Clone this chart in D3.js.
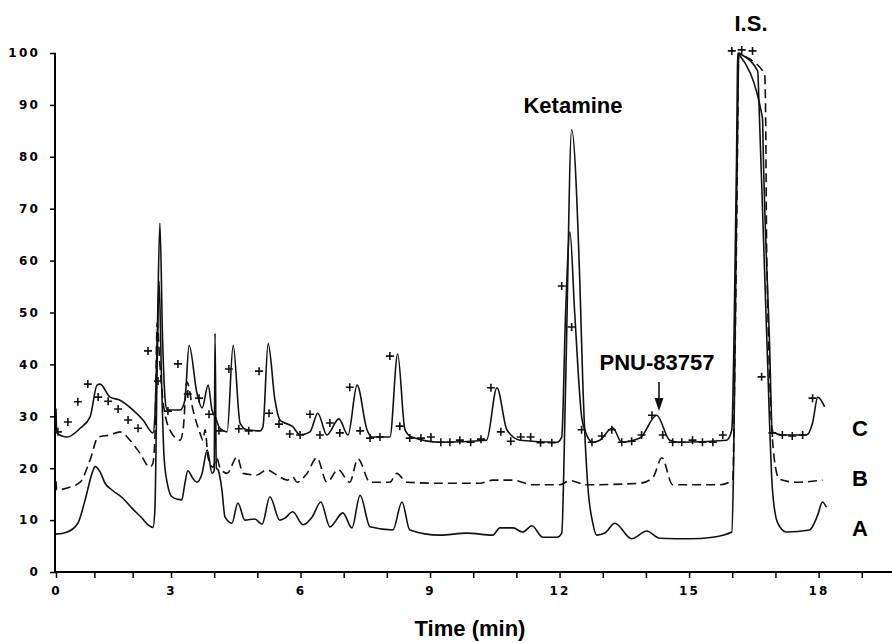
<!DOCTYPE html>
<html>
<head>
<meta charset="utf-8">
<script src="https://cdn.jsdelivr.net/npm/d3@7"></script>
<style>
  body { margin: 0; background: #fff; }
  svg { display: block; }
  .tick text { font-family: "DejaVu Sans", sans-serif; font-size: 12px; font-weight: bold; letter-spacing: 2.2px; }
  .label { font-family: "Liberation Sans", Arial, sans-serif; font-weight: bold; font-size: 22px; }
</style>
</head>
<body>
<svg id="chart" width="892" height="643"></svg>
<script>
// time (min) / relative abundance pairs
var traceA = [
  [0, 7.3], [0.26, 7.6], [0.57, 9.4], [0.76, 13.9], [0.94, 19.0], [1.02, 20.3], [1.15, 19.3],
  [1.28, 17.1], [1.46, 15.8], [1.73, 14.3], [1.98, 12.3], [2.24, 10.4], [2.40, 9.1], [2.53, 8.6],
  [2.58, 12], [2.64, 40], [2.69, 56], [2.75, 38], [2.82, 22], [2.92, 16.5], [3.02, 14.5],
  [3.16, 14], [3.25, 13.9], [3.32, 17], [3.39, 19.5], [3.51, 18], [3.60, 17.3], [3.72, 19],
  [3.84, 23.5], [3.95, 19], [4.00, 19.5], [4.02, 46], [4.05, 20], [4.09, 19.7], [4.18, 15.8],
  [4.25, 10.6], [4.41, 9.4], [4.55, 13.3], [4.71, 10], [4.94, 10.2], [5.11, 9.2], [5.29, 14.5],
  [5.52, 10], [5.64, 10.4], [5.82, 11.6], [6.06, 9.1], [6.27, 10.6], [6.47, 13.5], [6.68, 8.7],
  [6.98, 11.4], [7.19, 8.5], [7.38, 14.8], [7.61, 8.7], [8.14, 8.1], [8.35, 13.5], [8.53, 8.1],
  [9.23, 7.1], [9.85, 7.5], [10.45, 7.1], [10.62, 8.5], [10.92, 8.5], [11.15, 7.7], [11.36, 8.9],
  [11.61, 6.7], [11.94, 6.7], [12.05, 7.5], [12.14, 36], [12.28, 85.2], [12.47, 55.7], [12.54, 36],
  [12.65, 17], [12.77, 9.4], [12.86, 7.1], [13.05, 7.5], [13.28, 9.4], [13.67, 6.4], [14.02, 7.9],
  [14.32, 6.5], [15.01, 6.4], [15.55, 6.7], [15.99, 7.7], [16.03, 20], [16.10, 70], [16.14, 96],
  [16.15, 100], [16.17, 99.9], [16.59, 96.5], [16.62, 90], [16.80, 45], [16.93, 16], [17.05, 9.5],
  [17.25, 7.7], [17.79, 8.1], [17.98, 11], [18.09, 13.5], [18.18, 12.5]
];

var traceB = [
  [0, 17.5], [0.02, 15.8], [0.29, 16.2], [0.63, 17.3], [0.89, 21.6], [1.10, 26], [1.41, 26.4],
  [1.67, 27], [1.93, 25.4], [2.19, 22.9], [2.45, 20.2], [2.53, 21], [2.58, 26], [2.64, 48],
  [2.71, 40], [2.79, 33], [2.97, 27.4], [3.21, 25.4], [3.28, 27.4], [3.37, 36.6], [3.51, 31.2],
  [3.67, 26.8], [3.74, 25.4], [3.79, 27.4], [3.86, 22], [3.97, 20.2], [4.06, 22], [4.13, 20.2],
  [4.30, 19], [4.53, 22.2], [4.67, 19], [4.99, 18.7], [5.22, 19.7], [5.45, 18.7], [5.69, 17.7],
  [5.82, 18.3], [5.92, 17.3], [6.15, 19], [6.38, 22], [6.61, 17.3], [6.87, 19.7], [7.14, 17.3],
  [7.33, 21.8], [7.61, 17.3], [8.07, 17.3], [8.23, 19], [8.46, 17.3], [9.23, 17.1], [10.15, 17.1],
  [10.45, 17.7], [10.92, 17.7], [11.38, 16.8], [12.00, 16.8], [12.24, 17.6], [12.63, 16.8],
  [13.86, 17.1], [14.16, 18.2], [14.37, 22], [14.62, 16.8], [15.08, 16.8], [15.71, 16.8],
  [16.01, 17.7], [16.06, 40], [16.12, 80], [16.14, 97], [16.15, 100], [16.17, 99.9],
  [16.75, 96], [16.77, 90], [16.80, 60], [16.97, 22], [17.09, 17.9], [17.48, 17.3], [18.09, 17.7]
];

var traceC = [
  [0, 31.5], [0.02, 26.8], [0.29, 26], [0.63, 27.7], [0.89, 29.9], [1.07, 36], [1.15, 36.2],
  [1.41, 33.7], [1.67, 33.1], [2.01, 31.2], [2.27, 29.3], [2.53, 26.8], [2.58, 30], [2.64, 45],
  [2.71, 67.2], [2.78, 45], [2.85, 33], [2.90, 31.2], [3.21, 31.2], [3.32, 33], [3.42, 43.7],
  [3.60, 34.5], [3.72, 31.6], [3.86, 36], [3.95, 31.2], [4.02, 30], [4.13, 27.7], [4.30, 27],
  [4.44, 43.7], [4.60, 28.7], [4.76, 27.4], [5.06, 27.2], [5.13, 28], [5.25, 44], [5.41, 33],
  [5.52, 29.3], [5.59, 28.9], [5.82, 28], [5.99, 26.4], [6.22, 27], [6.40, 30.6], [6.61, 26.4],
  [6.89, 29.5], [7.10, 26.4], [7.31, 36], [7.54, 27.4], [7.65, 26], [8.07, 26], [8.25, 42],
  [8.42, 27.4], [8.58, 26], [9.23, 25], [10.31, 25.4], [10.55, 35.5], [10.78, 27.4], [11.08, 25.4],
  [11.94, 25], [12.05, 26], [12.14, 50], [12.24, 65.5], [12.35, 50], [12.51, 30], [12.60, 27],
  [12.77, 25], [12.93, 25.4], [13.23, 27.8], [13.44, 25], [13.86, 25.8], [14.25, 30.2],
  [14.55, 25.4], [14.78, 25], [15.87, 25.4], [15.99, 27.4], [16.04, 45], [16.10, 80], [16.12, 97],
  [16.13, 100], [16.15, 99.8], [16.70, 87.5], [16.72, 80], [16.86, 45], [16.93, 27], [17.16, 26.4],
  [17.72, 26.4], [17.86, 28.7], [17.98, 33.7], [18.14, 31.8]
];

// library spectrum points, drawn as "+"
var libraryPoints = [
  [0.05, 27.0], [0.31, 28.9], [0.57, 32.8], [0.83, 36.2], [1.10, 33.7], [1.36, 32.9], [1.62, 31.4],
  [1.88, 29.3], [2.14, 27.7], [2.40, 42.6], [2.66, 36.8], [2.92, 31.0], [3.16, 40.1], [3.39, 34.3],
  [3.65, 33.5], [3.88, 30.4], [4.11, 27.2], [4.34, 39.1], [4.57, 27.6], [4.80, 27.2], [5.04, 38.7],
  [5.27, 30.6], [5.50, 28.5], [5.75, 26.6], [5.99, 26.4], [6.22, 30.4], [6.45, 26.4], [6.68, 28.7],
  [6.91, 26.8], [7.14, 35.6], [7.38, 27.2], [7.61, 25.8], [7.84, 26.0], [8.07, 41.6], [8.30, 28.1],
  [8.53, 25.8], [8.79, 25.8], [9.02, 26.0], [9.25, 25.0], [9.46, 25.0], [9.69, 25.4], [9.94, 25.0],
  [10.18, 25.6], [10.41, 35.5], [10.64, 27.0], [10.87, 25.2], [11.10, 26.0], [11.33, 26.0],
  [11.56, 24.9], [11.82, 24.9], [12.05, 55.1], [12.28, 47.2], [12.51, 27.4], [12.75, 25.0],
  [12.98, 26.2], [13.21, 27.4], [13.44, 25.0], [13.67, 25.2], [13.90, 26.4], [14.14, 30.2],
  [14.39, 26.4], [14.62, 25.0], [14.83, 25.0], [15.08, 25.4], [15.31, 25.0], [15.55, 25.0],
  [15.78, 26.4], [15.99, 100.4], [16.22, 100.6], [16.47, 100.4], [16.68, 37.6], [16.93, 26.8],
  [17.16, 26.4], [17.39, 26.2], [17.63, 26.4], [17.86, 33.5]
];

var timeTicks = d3.range(0, 20);
var timeLabels = [0, 3, 6, 9, 12, 15, 18];
var yTicks = d3.range(0, 101, 10);

var svg = d3.select('#chart');

// the 0-3 min stretch is drawn narrower on the original axis
var x = d3.scaleLinear().domain([0, 3, 19.7]).range([56, 171, 892]);
var y = d3.scaleLinear().domain([0, 100]).range([572, 53]);

var xAxis = d3.axisBottom(x)
  .tickValues(timeTicks)
  .tickSize(6)
  .tickPadding(8)
  .tickFormat(function (d) { return timeLabels.indexOf(d) >= 0 ? d : ''; });

var yAxis = d3.axisLeft(y)
  .tickValues(yTicks)
  .tickSize(6)
  .tickPadding(9)
  .tickFormat(d3.format('d'));

svg.append('g')
  .attr('transform', 'translate(0,572)')
  .call(xAxis)
  .call(function (g) {
    g.select('.domain').attr('d', 'M55,0H892').attr('stroke-width', 2);
    g.selectAll('.tick line').attr('stroke-width', 1.5);
  });

svg.append('g')
  .attr('transform', 'translate(55,0)')
  .call(yAxis)
  .call(function (g) {
    g.select('.domain').attr('d', 'M0,53V572').attr('stroke-width', 2);
    g.selectAll('.tick line').attr('stroke-width', 1.5).attr('x2', -5).attr('x1', 1);
  });

var line = d3.line()
  .x(function (d) { return x(d[0]); })
  .y(function (d) { return y(d[1]); })
  .curve(d3.curveMonotoneX);

svg.append('path').datum(traceA)
  .attr('fill', 'none').attr('stroke', '#111').attr('stroke-width', 1.6)
  .attr('d', line);

svg.append('path').datum(traceB)
  .attr('fill', 'none').attr('stroke', '#111').attr('stroke-width', 1.6)
  .attr('stroke-dasharray', '9,5')
  .attr('d', line);

svg.append('path').datum(traceC)
  .attr('fill', 'none').attr('stroke', '#111').attr('stroke-width', 1.6)
  .attr('d', line);

svg.append('g').selectAll('path')
  .data(libraryPoints)
  .enter().append('path')
  .attr('transform', function (d) { return 'translate(' + x(d[0]) + ',' + y(d[1]) + ')'; })
  .attr('d', 'M-4,0H4M0,-4V4')
  .attr('stroke', '#111')
  .attr('stroke-width', 1.6);

// annotations
svg.append('text').attr('class', 'label').attr('x', 573).attr('y', 113)
  .attr('text-anchor', 'middle').text('Ketamine');
svg.append('text').attr('class', 'label').attr('x', 751).attr('y', 31)
  .attr('text-anchor', 'middle').text('I.S.');
svg.append('text').attr('class', 'label').attr('x', 657).attr('y', 370)
  .attr('text-anchor', 'middle').text('PNU-83757');

svg.append('path')
  .attr('d', 'M659,382V404')
  .attr('stroke', '#111').attr('stroke-width', 1.6);
svg.append('path')
  .attr('d', 'M654.5,398L659,411L663.5,398Z')
  .attr('fill', '#111');

svg.append('text').attr('class', 'label').attr('x', 860).attr('y', 436)
  .attr('text-anchor', 'middle').text('C');
svg.append('text').attr('class', 'label').attr('x', 860).attr('y', 486)
  .attr('text-anchor', 'middle').text('B');
svg.append('text').attr('class', 'label').attr('x', 860).attr('y', 536)
  .attr('text-anchor', 'middle').text('A');

svg.append('text').attr('class', 'label').attr('x', 470).attr('y', 636)
  .attr('text-anchor', 'middle').text('Time (min)');
</script>
</body>
</html>
